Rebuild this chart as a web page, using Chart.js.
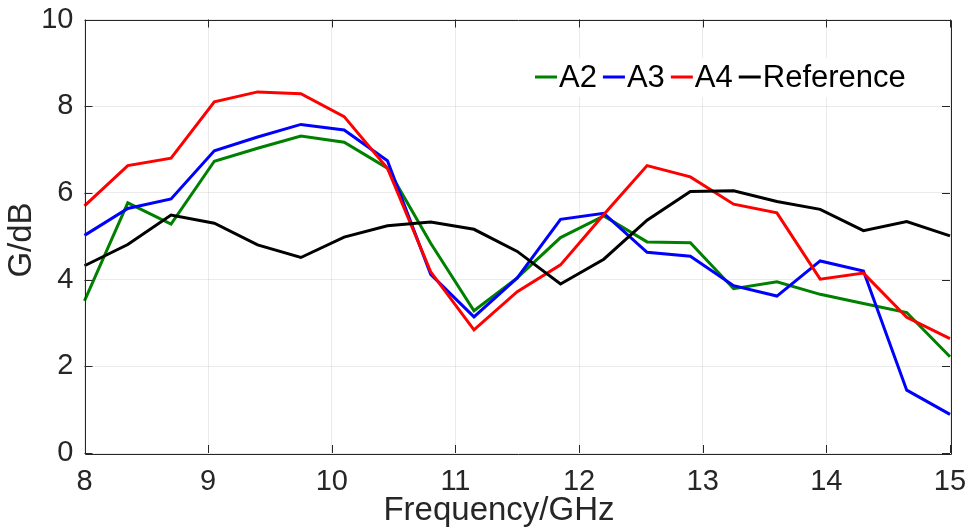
<!DOCTYPE html>
<html>
<head>
<meta charset="utf-8">
<script src="https://cdn.jsdelivr.net/npm/chart.js@4/dist/chart.umd.min.js"></script>
<style>
html,body{margin:0;padding:0;background:#fff;}
#wrap{width:974px;height:531px;}
</style>
</head>
<body>
<div id="wrap"><canvas id="c" width="974" height="531"></canvas></div>
<script>
const freq = [8, 8.35, 8.7, 9.05, 9.4, 9.75, 10.1, 10.45, 10.8, 11.15, 11.5, 11.85, 12.2, 12.55, 12.9, 13.25, 13.6, 13.95, 14.3, 14.65, 15];
const gainA2 = [3.51, 5.77, 5.28, 6.73, 7.03, 7.31, 7.17, 6.57, 4.84, 3.28, 4.04, 4.97, 5.47, 4.87, 4.85, 3.79, 3.95, 3.66, 3.45, 3.24, 2.22];
const gainA3 = [5.02, 5.64, 5.86, 6.97, 7.29, 7.58, 7.45, 6.74, 4.12, 3.14, 4.04, 5.39, 5.53, 4.63, 4.54, 3.86, 3.62, 4.43, 4.20, 1.45, 0.89];
const gainA4 = [5.70, 6.63, 6.80, 8.10, 8.33, 8.29, 7.76, 6.57, 4.18, 2.84, 3.72, 4.34, 5.50, 6.63, 6.37, 5.74, 5.54, 4.01, 4.15, 3.13, 2.64];
const gainRef = [4.32, 4.81, 5.49, 5.30, 4.80, 4.51, 4.98, 5.24, 5.33, 5.16, 4.65, 3.90, 4.47, 5.37, 6.03, 6.05, 5.80, 5.62, 5.13, 5.34, 5.01];
const seriesNames = ['A2', 'A3', 'A4', 'Reference'];
const xTicks = [8, 9, 10, 11, 12, 13, 14, 15];
const yTicks = [0, 2, 4, 6, 8, 10];
const xTitle = 'Frequency/GHz';
const yTitle = 'G/dB';

const FONT = '"Liberation Sans", Arial, Helvetica, sans-serif';
const AXIS_COLOR = '#262626';

function pts(ys) { return freq.map((x, i) => ({x: x, y: ys[i]})); }

const frame = {
  id: 'frame',
  afterDatasetsDraw(chart) {
    const ctx = chart.ctx, a = chart.chartArea;
    const xs = chart.scales.x, ys = chart.scales.y;
    ctx.save();
    ctx.strokeStyle = AXIS_COLOR;
    ctx.lineWidth = 1;
    ctx.beginPath();
    const tl = 8;
    xTicks.forEach(v => {
      const px = Math.round(xs.getPixelForValue(v)) + 0.5;
      ctx.moveTo(px, a.bottom); ctx.lineTo(px, a.bottom - tl);
      ctx.moveTo(px, a.top); ctx.lineTo(px, a.top + tl);
    });
    yTicks.forEach(v => {
      const py = Math.round(ys.getPixelForValue(v)) + 0.5;
      ctx.moveTo(a.left, py); ctx.lineTo(a.left + tl, py);
      ctx.moveTo(a.right, py); ctx.lineTo(a.right - tl, py);
    });
    ctx.stroke();
    ctx.beginPath();
    ctx.rect(Math.round(a.left) + 0.5, Math.round(a.top) + 0.5, Math.round(a.right - a.left), Math.round(a.bottom - a.top));
    ctx.stroke();

    // legend
    const lx0 = 535, ly = 77, lineW = 22;
    ctx.font = '31px ' + FONT;
    const items = chart.data.datasets.map(ds => ({ds, w: ctx.measureText(ds.label).width}));
    ctx.fillStyle = '#ffffff';
    let x = lx0;
    items.forEach(it => { x += lineW + 2 + it.w + 6; });
    ctx.fillRect(lx0 - 6, 58, x - lx0 + 6, 39);
    x = lx0;
    ctx.textBaseline = 'middle';
    ctx.textAlign = 'left';
    items.forEach(it => {
      ctx.strokeStyle = it.ds.borderColor;
      ctx.lineWidth = 3;
      ctx.beginPath();
      ctx.moveTo(x, ly); ctx.lineTo(x + lineW, ly);
      ctx.stroke();
      ctx.fillStyle = '#000000';
      ctx.fillText(it.ds.label, x + lineW + 2, ly + 1);
      x += lineW + 2 + it.w + 6;
    });

    // axis titles
    ctx.fillStyle = AXIS_COLOR;
    ctx.font = '33px ' + FONT;
    ctx.textAlign = 'center';
    ctx.textBaseline = 'middle';
    ctx.fillText(xTitle, 499, 511);
    ctx.save();
    ctx.translate(22, 240);
    ctx.rotate(-Math.PI / 2);
    ctx.fillText(yTitle, 0, 0);
    ctx.restore();
    ctx.restore();
  }
};

new Chart(document.getElementById('c'), {
  type: 'line',
  data: {
    datasets: [
      {label: seriesNames[0], data: pts(gainA2), borderColor: '#008000', order: 4},
      {label: seriesNames[1], data: pts(gainA3), borderColor: '#0000ff', order: 3},
      {label: seriesNames[2], data: pts(gainA4), borderColor: '#ff0000', order: 2},
      {label: seriesNames[3], data: pts(gainRef), borderColor: '#000000', order: 1}
    ].map(d => Object.assign(d, {borderWidth: 3, pointRadius: 0, fill: false, tension: 0, borderJoinStyle: 'miter', clip: 2}))
  },
  options: {
    responsive: false,
    animation: false,
    devicePixelRatio: 1,
    layout: {padding: {left: 0, top: 19.5, right: 24, bottom: 0}},
    plugins: {legend: {display: false}, tooltip: {enabled: false}},
    scales: {
      x: {
        type: 'linear', min: 8, max: 15,
        afterBuildTicks: s => { s.ticks = xTicks.map(v => ({value: v})); },
        afterFit: s => { s.height = 78; s.paddingLeft = 0; s.paddingRight = 0; },
        grid: {color: 'rgba(0,0,0,0.08)', drawTicks: false},
        border: {display: false},
        ticks: {color: AXIS_COLOR, font: {family: FONT, size: 29}, padding: 12, maxRotation: 0, autoSkip: false}
      },
      y: {
        type: 'linear', min: 0, max: 10,
        afterBuildTicks: s => { s.ticks = yTicks.map(v => ({value: v})); },
        afterFit: s => { s.width = 84.5; s.paddingTop = 0; s.paddingBottom = 0; },
        grid: {color: 'rgba(0,0,0,0.08)', drawTicks: false},
        border: {display: false},
        ticks: {color: AXIS_COLOR, font: {family: FONT, size: 29}, padding: 11}
      }
    }
  },
  plugins: [frame]
});
</script>
</body>
</html>
